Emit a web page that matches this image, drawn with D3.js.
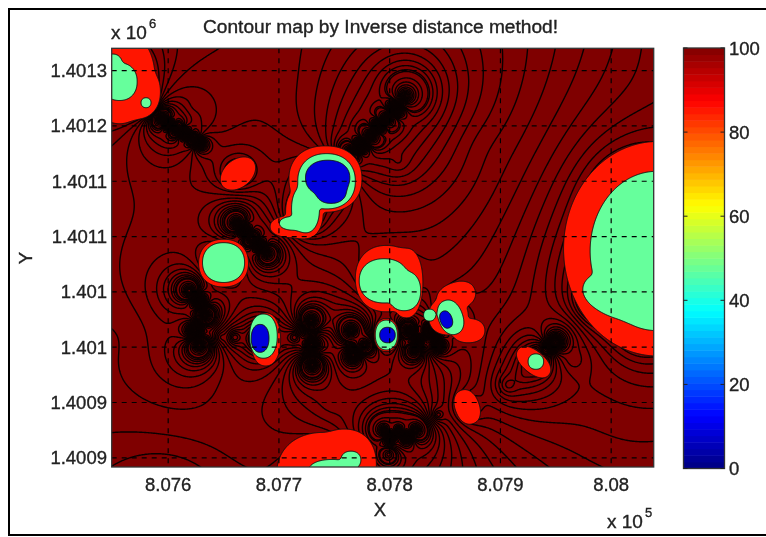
<!DOCTYPE html>
<html><head><meta charset="utf-8">
<script src="https://cdn.jsdelivr.net/npm/d3@7"></script>
<style>html,body{margin:0;padding:0;background:#fff;overflow:hidden}svg{display:block;filter:blur(.5px)}text{font-family:"Liberation Sans",Arial,sans-serif;fill:#222;stroke:#222;stroke-width:.35}</style>
</head><body><svg id="c" width="766" height="537"></svg>
<script>
// survey origin (metres) and tick values
const originEast = 807549, originNorth = 1400892;
const xTicks = [807600, 807700, 807800, 807900, 808000];
const xTickLabels = ["8.076", "8.077", "8.078", "8.079", "8.08"];
const yTicks = [1401250, 1401200, 1401150, 1401100, 1401050, 1401000, 1400950, 1400900];
const yTickLabels = ["1.4013", "1.4012", "1.4011", "1.4011", "1.401", "1.401", "1.4009", "1.4009"];
const barTicks = [0, 20, 40, 60, 80, 100];
// value bands: [east, north, radiusE, radiusN, tilt, roundness] in metres from origin
const band85 = [[7,353,32,43,0,2],[21,339,23,25,0,2.2],[114,265,18,12.5,40,2],[193,260,33,30,0],[174,230,17,24,0],[163,217,20,10,0],[101,184,22.5,21.6,0],[248,170,28,30,0],[266,166,15,31.5,0],[311,154,18,12.6,20],[304,136,18,17,0],[322,123,15,11,0],[248,119,11,15,0],[139,115,13.5,24,0],[381,94.5,18,10,-40],[321,54,11,16,20],[192,-7,43,38,0],[210,2,29,32,0],[493,197,85,97,0,2]];
const band50 = [[7,348,16,17,0],[1,362,9,11,0],[31,329,4.5,4.5,0],[194,258,26,25,0],[175,233,12.6,21.6,0],[165,220,13.5,6.3,0],[101,184.5,19,18,0],[246,168,22.5,20,0],[264,159,15,18,0],[306,135,11,16,20],[287,137,5.4,5.4,0],[248,119,10,13.5,0],[137,118,12.5,20,0],[383,95,7,7,0],[199,-4.5,21.6,11,0],[216,6,9,8,0],[492,195,60,72,0,2],[475,155,50,25,-8,2]];
const band20 = [[195,261,20,16,0],[198,250,14,12,0],[249,119,7,7,0],[302,133,5.4,8,20],[134,116,8,12.6,0]];
// measured samples: [east, north, value, spread]
const samples = [
[457,186,20],[439,150,20],[470,240,20],[480,130,30],[196,0,35],[196,258,10],[174,227,40],[101,184,40],[250,166,40],[302,133,10],[248,119,10],[135,116,10],[383,95,40],[321,54,75,8],[113,265,75,8],[12,348,40],[31,329,45],
[457,33,100,50],[330,290,125,30],[16,123,108,35],[50,-35,40,30],[520,400,60,60],[142,349,120,40],[100,80,125,25],
[46,314,320],[52,309,40],[58,305,320],[66,301,60],[73,296,260],[80,292,70],[75,326,150,6],
[216,285,280],[225,290,60],[234,299,320],[241,308,60],[248,314,320],[256,323,70],[265,335,300],[259,276,170,5],
[113,220,300],[120,213,50],[126,206,300],[133,200,60],[140,193,280],
[70,159,280],[79,150,60],[84,137,300],[75,123,50],[79,110,300],
[99,117,125,3],[111,117,95,3],[156,117,125,3],[165,117,95,3],[180,132,300],[180,110,50],[181,92,300],[196,114,112,12],[216,123,300],[218,101,50],[228,110,280],[268,123,300],[277,114,50],[288,123,300],[278,125,115,4],[295,110,50],[273,105,280],[199,60,170,8],
[246,33,300],[252,27,50],[259,33,300],[266,27,50],[274,33,300],[250,11,220],[295,47,130],
[400,112,220],[392,105,50],[417,96,130,6],[372,83,90,6],[358,74,85,6]];
const lineLevels = [...d3.range(30,70,15),...d3.range(70,180,4),...d3.range(180,330,10)];
const jetDomain = [0, 12.5, 37.5, 62.5, 87.5, 100];
const jetColors = ["#000080", "#0000ff", "#00ffff", "#ffff00", "#ff0000", "#800000"];
const colorBelow85 = "#ff1500", colorBelow50 = "#66ff9c", colorBelow20 = "#0000dc", colorTop = "#7f0000";

const L=111.7,R=653.7,T=48.3,B=467;
const x=d3.scaleLinear().domain([originEast,808038.4]).range([L,R]);
const y=d3.scaleLinear().domain([originNorth-0.3,1401270.2]).range([B,T]);
const svg=d3.select("#c");
svg.append("rect").attr("width",766).attr("height",537).attr("fill","#fff");
svg.append("path").attr("d","M768,9H9V535H768").attr("fill","none").attr("stroke","#000").attr("stroke-width",2);
svg.append("clipPath").attr("id","plot").append("rect").attr("x",L).attr("y",T).attr("width",R-L).attr("height",B-T);
const m=3,W=Math.ceil(R-L)+2*m,H=Math.ceil(B-T)+2*m;
const gx=d3.range(W).map(i=>x.invert(L-m+i)-originEast), gy=d3.range(H).map(j=>y.invert(T-m+j)-originNorth);
function idw(){const v=new Float64Array(W*H);const e2=samples.map(s=>s[3]?s[3]*s[3]:.5);for(let j=0;j<H;j++)for(let i=0;i<W;i++){let a=0,b=0;for(let n=0;n<samples.length;n++){const s=samples[n],dx=gx[i]-s[0],dy=gy[j]-s[1],w=Math.pow(dx*dx+dy*dy+e2[n],-.75);a+=w*s[2];b+=w;}v[j*W+i]=a/b;}return v;}
function zone(list){const k=3,v=new Float64Array(W*H);const rows=list.map(z=>{const t=z[4]*Math.PI/180;return [z[0],z[1],z[2],z[3],Math.cos(t),Math.sin(t),Math.min(z[2],z[3]),z[5]||2.2];});
for(let j=0;j<H;j++)for(let i=0;i<W;i++){let d=1e9;for(const z of rows){const dx=gx[i]-z[0],dy=gy[j]-z[1],u=dx*z[4]+dy*z[5],w=-dx*z[5]+dy*z[4],p=z[7];const q=(Math.pow(Math.pow(Math.abs(u/z[2]),p)+Math.pow(Math.abs(w/z[3]),p),1/p)-1)*z[6];const h=Math.max(k-Math.abs(d-q),0)/k;d=Math.min(d,q)-h*h*k/4;}v[j*W+i]=-d;}return v;}
const plot=svg.append("g").attr("clip-path","url(#plot)");
plot.append("rect").attr("x",L).attr("y",T).attr("width",R-L).attr("height",B-T).attr("fill",colorTop);
const tr=`translate(${L-m-.5},${T-m-.5})`,path=d3.geoPath();
const lg=plot.append("g").attr("transform",tr);
const lv=idw();
d3.contours().size([W,H]).thresholds(lineLevels)(lv).forEach(c=>lg.append("path").attr("d",path(c)).attr("fill","none").attr("stroke","#0a0000").attr("stroke-width",1.4));
[[band85,colorBelow85],[band50,colorBelow50],[band20,colorBelow20]].forEach(([list,col])=>{
 const c=d3.contours().size([W,H]).thresholds([0])(zone(list))[0];
 lg.append("path").attr("d",path(c)).attr("fill",col).attr("stroke","#111").attr("stroke-width",1);
});
const dash="5 5";
xTicks.forEach(t=>plot.append("line").attr("x1",x(t)).attr("x2",x(t)).attr("y1",T).attr("y2",B).attr("stroke","#000").attr("stroke-width",1.2).attr("stroke-dasharray",dash));
yTicks.forEach(t=>plot.append("line").attr("y1",y(t)).attr("y2",y(t)).attr("x1",L).attr("x2",R).attr("stroke","#000").attr("stroke-width",1.2).attr("stroke-dasharray",dash));
svg.append("rect").attr("x",L).attr("y",T).attr("width",R-L).attr("height",B-T).attr("fill","none").attr("stroke","#333").attr("stroke-width",1.3);
const fs=18.5;
xTicks.forEach((t,i)=>svg.append("text").attr("x",x(t)).attr("y",491).attr("text-anchor","middle").attr("font-size",fs).text(xTickLabels[i]));
yTicks.forEach((t,i)=>svg.append("text").attr("x",107).attr("y",y(t)+6.5).attr("text-anchor","end").attr("font-size",fs).text(yTickLabels[i]));
svg.append("text").attr("x",380).attr("y",516).attr("text-anchor","middle").attr("font-size",fs).text("X");
svg.append("text").attr("transform","translate(32,258) rotate(-90)").attr("text-anchor","middle").attr("font-size",fs).text("Y");
svg.append("text").attr("x",380.5).attr("y",33).attr("text-anchor","middle").attr("font-size",18).attr("textLength",355).attr("lengthAdjust","spacingAndGlyphs").text("Contour map by Inverse distance method!");
function exp(px,py,s,e){svg.append("text").attr("x",px).attr("y",py).attr("font-size",fs+.5).text(s);svg.append("text").attr("x",px+38).attr("y",py-11).attr("font-size",13).text(e);}
exp(111,39,"x 10","6");exp(607,528,"x 10","5");
// colour bar
const bL=683.5,bR=724.5,bT=48,bB=468.5;
const cb=d3.scaleLinear().domain([0,100]).range([bB,bT]);
const jet=d3.scaleLinear().domain(jetDomain).range(jetColors);
d3.range(64).forEach(i=>svg.append("rect").attr("x",bL).attr("width",bR-bL).attr("y",cb((i+1)*100/64)).attr("height",cb(i*100/64)-cb((i+1)*100/64)+.5).attr("fill",jet((i+.5)*100/64)));
svg.append("rect").attr("x",bL).attr("y",bT).attr("width",bR-bL).attr("height",bB-bT).attr("fill","none").attr("stroke","#333").attr("stroke-width",1.3);
barTicks.forEach(t=>{
 svg.append("path").attr("d",`M${bL},${cb(t)}h4M${bR},${cb(t)}h-4`).attr("stroke","#222").attr("stroke-width",1);
 svg.append("text").attr("x",729).attr("y",cb(t)+6.5).attr("font-size",fs).text(t);
});
</script></body></html>
